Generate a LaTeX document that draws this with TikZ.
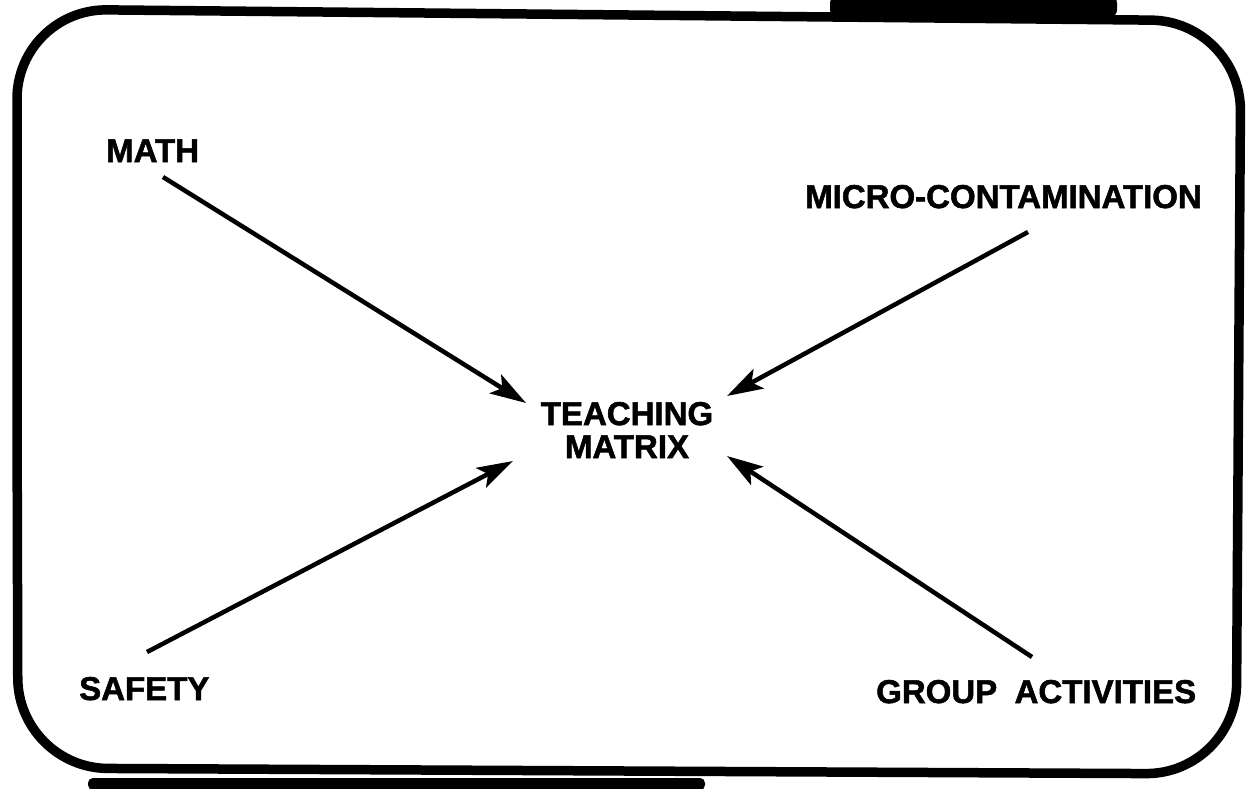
\documentclass[tikz,border=0pt]{standalone}
\usepackage{fontspec}
\setmainfont{Liberation Sans}
\newfontfamily\heavyfont[FakeBold=1.6]{Liberation Sans Bold}
\usetikzlibrary{arrows.meta}
\begin{document}
\begin{tikzpicture}[x=1pt,y=-1pt,
  lbl/.style={font=\fontsize{33}{34}\heavyfont, inner sep=0pt, anchor=base west},
  feed/.style={line width=4.5pt, -{Stealth[length=36pt,width=22pt,inset=8pt]}},
  frame/.style={line width=9.5pt, rounded corners=90pt},
  bar/.style={fill=black, draw=none}]
\useasboundingbox (0,0) rectangle (1252,788);
% scan bars
\fill[bar, rounded corners=7pt] (830,-4) rectangle (1117,17);
\fill[bar, rounded corners=5pt] (88,778) rectangle (705,790);
% frame
\draw[frame] (17,400) -- (17,9) -- (1241,21) -- (1236,774) -- (18,768) -- cycle;
% labels
\node[lbl] (math) at (106,162) {MATH};
\node[lbl] (micro) at (805,208) {MICRO-CONTAMINATION};
\node[lbl] (safety) at (79,700) {SAFETY};
\node[lbl] (group) at (876,703) {GROUP\hspace{0.25em} ACTIVITIES};
\node[font=\fontsize{33}{33}\heavyfont, inner sep=0pt, align=center] (tm) at (627,430) {TEACHING\\MATRIX};
% connector ends
\coordinate (mathS) at (163,177);
\coordinate (mathE) at (526,403);
\coordinate (microS) at (1028,232);
\coordinate (microE) at (727,396);
\coordinate (safetyS) at (147,652);
\coordinate (safetyE) at (513,461);
\coordinate (groupS) at (1032,657);
\coordinate (groupE) at (727,456);
\draw[feed] (mathS) -- (mathE);
\draw[feed] (microS) -- (microE);
\draw[feed] (safetyS) -- (safetyE);
\draw[feed] (groupS) -- (groupE);
\end{tikzpicture}
\end{document}
